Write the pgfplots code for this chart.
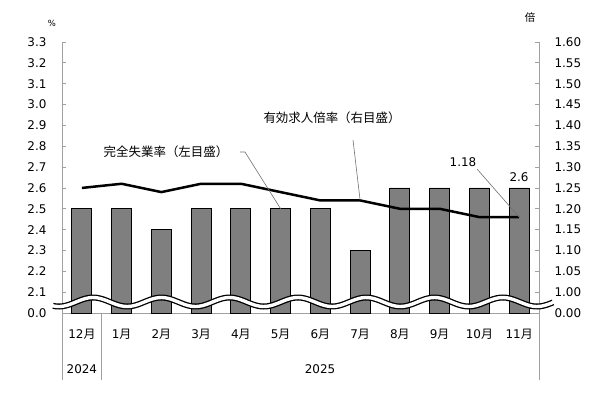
\documentclass[border=0pt]{standalone}
\usepackage{fontspec}
\setmainfont{DejaVu Sans}
\newfontfamily\jp{Noto Sans CJK JP}
\usepackage{pgfplots}
\pgfplotsset{compat=1.18}
\definecolor{barg}{HTML}{7F7F7F}
\definecolor{axg}{HTML}{A0A0A0}
\definecolor{ldr}{HTML}{707070}
\begin{document}
\begin{tikzpicture}[x=1bp,y=1bp]
\useasboundingbox (0,0) rectangle (609,392);
\pgfplotsset{base/.style={at={(62bp,79bp)}, anchor=south west, scale only axis,
  width=477bp, height=271bp, xmin=-0.5, xmax=11.5,
  tick align=inside, major tick length=4bp,
  tick style={axg, line width=0.8bp},
  axis line style={axg, line width=1bp},
  ticklabel style={font=\fontsize{12}{14}\selectfont}}}
\begin{axis}[base, ymin=2.0, ymax=3.3,
  axis y line*=left, axis x line*=bottom,
  ytick={2.0,2.1,2.2,2.3,2.4,2.5,2.6,2.7,2.8,2.9,3.0,3.1,3.2,3.3},
  yticklabels={0.0,2.1,2.2,2.3,2.4,2.5,2.6,2.7,2.8,2.9,3.0,3.1,3.2,3.3},
  yticklabel style={xshift=-12bp},
  xtick={0,1,2,3,4,5,6,7,8,9,10,11},
  xticklabels={12{\jp 月},1{\jp 月},2{\jp 月},3{\jp 月},4{\jp 月},5{\jp 月},6{\jp 月},7{\jp 月},8{\jp 月},9{\jp 月},10{\jp 月},11{\jp 月}},
  xtick style={draw=none},
  xticklabel style={yshift=-13bp}]
\addplot[ybar, bar width=20bp, fill=barg, draw=black, line width=0.8bp]
  coordinates {(0,2.5)(1,2.5)(2,2.4)(3,2.5)(4,2.5)(5,2.5)(6,2.5)(7,2.3)(8,2.6)(9,2.6)(10,2.6)(11,2.6)};
\coordinate (p5) at (axis cs:5,2.5);
\end{axis}
\begin{axis}[base, ymin=0.95, ymax=1.60,
  axis y line*=right, axis x line=none,
  ytick={0.95,1.00,1.05,1.10,1.15,1.20,1.25,1.30,1.35,1.40,1.45,1.50,1.55,1.60},
  yticklabels={0.00,1.00,1.05,1.10,1.15,1.20,1.25,1.30,1.35,1.40,1.45,1.50,1.55,1.60},
  yticklabel style={xshift=12bp}]
\addplot[black, line width=2.5bp, no marks]
  coordinates {(0,1.25)(1,1.26)(2,1.24)(3,1.26)(4,1.26)(5,1.24)(6,1.22)(7,1.22)(8,1.20)(9,1.20)(10,1.18)(11,1.18)};
\coordinate (p7) at (axis cs:7,1.22);
\coordinate (p11) at (axis cs:11,1.18);
\end{axis}
% wave break
\draw[black, line width=6bp] plot[domain=53:553, samples=160, smooth] (\x, {90+4.5*cos((\x-93)*5.2709)});
\draw[white, line width=3.4bp] plot[domain=51:555, samples=160, smooth] (\x, {90+4.5*cos((\x-93)*5.2709)});
% extended axis lines
\draw[axg, line width=1bp] (62,79) -- (62,12);
\draw[axg, line width=1bp] (101.75,79) -- (101.75,12);
\draw[axg, line width=1bp] (539,79) -- (539,12);
\node[font=\fontsize{12}{14}\selectfont] at (81.9,23) {2024};
\node[font=\fontsize{12}{14}\selectfont] at (320,23) {2025};
% axis units
\node[font=\fontsize{8.5}{9}\selectfont] at (52,369) {\%};
\node[font=\jp\fontsize{10.5}{11}\selectfont] at (530,374) {倍};
% annotations
\node[font=\jp\fontsize{12.5}{14}\selectfont] at (166,240) {完全失業率（左目盛）};
\draw[ldr, line width=0.6bp] (240,240) -- (245,240) -- (p5);
\node[font=\jp\fontsize{12.5}{14}\selectfont] at (332,274) {有効求人倍率（右目盛）};
\draw[ldr, line width=0.6bp] (353,252) -- (p7);
\node[font=\fontsize{12}{14}\selectfont] at (463,230) {1.18};
\draw[ldr, line width=0.6bp] (477,223) -- (p11);
\node[font=\fontsize{12}{14}\selectfont] at (519,215) {2.6};
\end{tikzpicture}
\end{document}
